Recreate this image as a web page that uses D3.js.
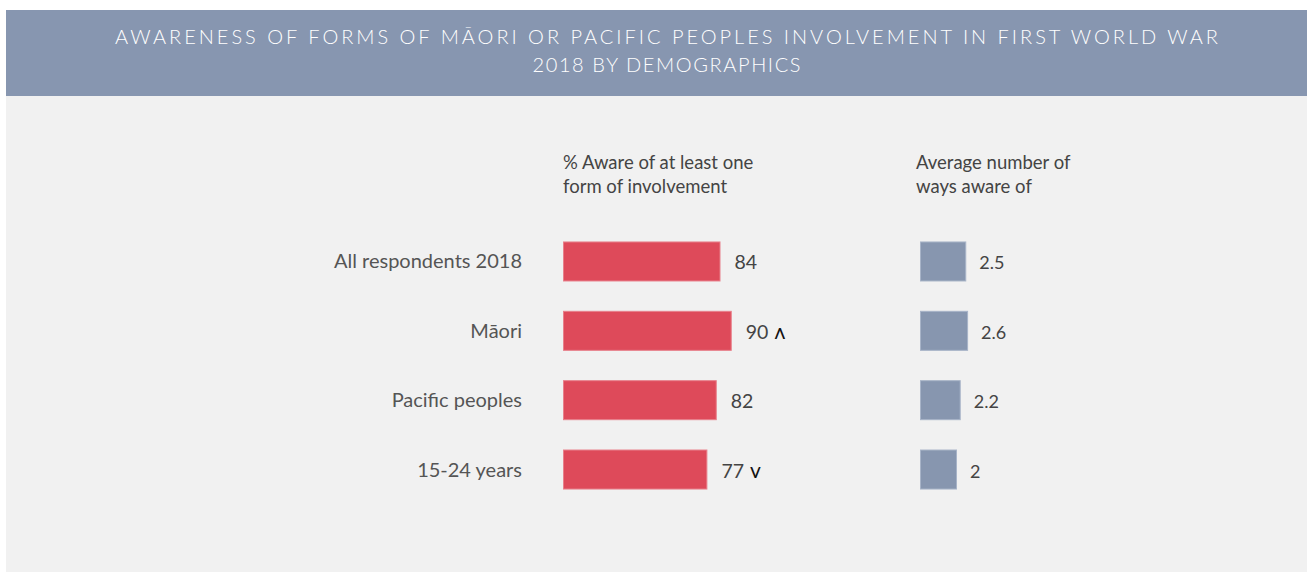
<!DOCTYPE html>
<html>
<head>
<meta charset="utf-8">
<script src="https://cdn.jsdelivr.net/npm/d3@7"></script>
<style>
  html, body { margin: 0; padding: 0; background: #ffffff; }
  svg { display: block; }
  text { font-family: Lato, "Open Sans", sans-serif; }
</style>
</head>
<body>
<svg id="chart" width="1307" height="572"></svg>
<script>
// Survey groups and their results
const categories = ["All respondents 2018", "Māori", "Pacific peoples", "15-24 years"];
const awarePct = [84, 90, 82, 77];
const avgWays = [2.5, 2.6, 2.2, 2];
// significance markers: up = significantly higher, down = significantly lower
const sigMarks = ["", "ʌ", "", "v"];

const titleLines = [
  "AWARENESS OF FORMS OF MĀORI OR PACIFIC PEOPLES INVOLVEMENT IN FIRST WORLD WAR",
  "2018 BY DEMOGRAPHICS"
];
const pctHeader = ["% Aware of at least one", "form of involvement"];
const avgHeader = ["Average number of", "ways aware of"];

const W = 1307, H = 572;
const svg = d3.select("#chart");

// panel and banner
svg.append("rect").attr("x", 6).attr("y", 10).attr("width", W - 6).attr("height", H - 10)
  .attr("fill", "#f1f1f1");
svg.append("rect").attr("x", 6).attr("y", 10).attr("width", W - 6).attr("height", 86)
  .attr("fill", "#8796b0");

const titleWidths = [1103, 268];
svg.append("g").selectAll("text").data(titleLines).join("text")
  .attr("x", 666.5)
  .attr("y", (d, i) => 44 + i * 28)
  .attr("text-anchor", "middle")
  .attr("fill", "#ffffff")
  .attr("font-size", 20)
  .attr("font-family", "'Open Sans', sans-serif")
  .attr("font-weight", 300)
  .attr("textLength", (d, i) => titleWidths[i])
  .attr("lengthAdjust", "spacing")
  .text(d => d);

// scales
const y = d3.scaleBand().domain(categories).range([226.8, 504.2])
  .paddingInner(0.423).paddingOuter(0.2115);
const xPct = d3.scaleLinear().domain([0, 100]).range([563, 750.5]);
const xAvg = d3.scaleLinear().domain([0, 3]).range([920, 975.5]);

// column headers
const hdr = svg.append("g").attr("fill", "#444").attr("font-size", 18.5);
hdr.selectAll("text.p").data(pctHeader).join("text").attr("class", "p")
  .attr("x", 563).attr("y", (d, i) => 169 + i * 24).text(d => d);
hdr.selectAll("text.a").data(avgHeader).join("text").attr("class", "a")
  .attr("x", 916).attr("y", (d, i) => 169 + i * 24).text(d => d);

// category labels
svg.append("g").selectAll("text").data(categories).join("text")
  .attr("x", 522)
  .attr("y", d => y(d) + y.bandwidth() / 2 + 7)
  .attr("text-anchor", "end")
  .attr("fill", "#555")
  .attr("font-size", 20)
  .text(d => d);

// % aware bars
const rows = categories.map((c, i) => ({ c, pct: awarePct[i], avg: avgWays[i], mark: sigMarks[i] }));

svg.append("g").selectAll("rect").data(rows).join("rect")
  .attr("x", xPct(0) + 0.5)
  .attr("y", d => y(d.c) + 0.5)
  .attr("width", d => xPct(d.pct) - xPct(0) - 1)
  .attr("height", y.bandwidth() - 1)
  .attr("fill", "#de4a5a")
  .attr("stroke", "#e8808b")
  .attr("stroke-width", 1);

const pctLab = svg.append("g").selectAll("text").data(rows).join("text")
  .attr("x", d => xPct(d.pct) + 14)
  .attr("y", d => y(d.c) + y.bandwidth() / 2 + 8)
  .attr("fill", "#444")
  .attr("font-size", 19.5);
pctLab.append("tspan").text(d => d.pct);
pctLab.append("tspan").attr("fill", "#111")
  .attr("dx", 6).attr("font-size", 21).text(d => d.mark);

// average count bars
svg.append("g").selectAll("rect").data(rows).join("rect")
  .attr("x", xAvg(0) + 0.5)
  .attr("y", d => y(d.c) + 0.5)
  .attr("width", d => xAvg(d.avg) - xAvg(0) - 1)
  .attr("height", y.bandwidth() - 1)
  .attr("fill", "#8796af")
  .attr("stroke", "#a8b4c8")
  .attr("stroke-width", 1);

svg.append("g").selectAll("text").data(rows).join("text")
  .attr("x", d => xAvg(d.avg) + 13)
  .attr("y", d => y(d.c) + y.bandwidth() / 2 + 8)
  .attr("fill", "#444")
  .attr("font-size", 18)
  .text(d => d.avg);
</script>
</body>
</html>
